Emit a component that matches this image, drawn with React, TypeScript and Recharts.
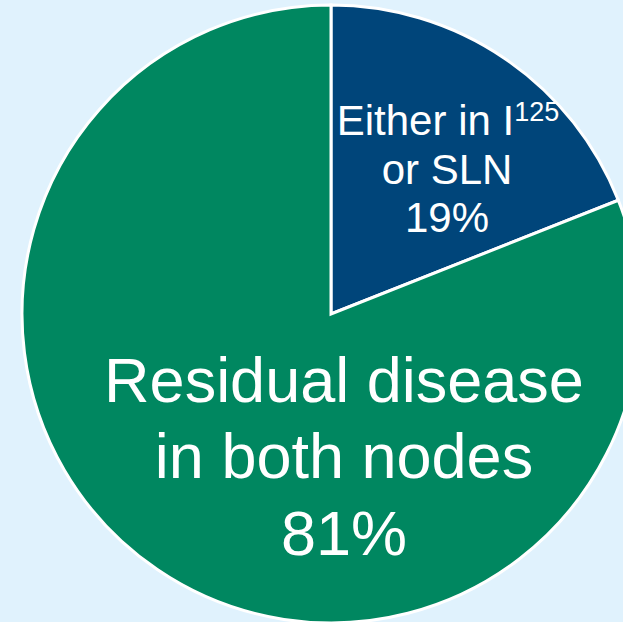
import { PieChart, Pie, Cell } from 'recharts'

document.body.style.margin = '0'

const sliceNames = ['Either in I125 or SLN', 'Residual disease in both nodes']
const sliceValues = [19, 81]
const sliceColors = ['#00457a', '#008760']

const data = sliceNames.map((name, i) => ({ name, value: sliceValues[i] }))

const FONT = '"Liberation Sans", Arial, sans-serif'

function renderLabel(props: any) {
  const { cx, cy, index, percent } = props
  const pct = `${Math.round(percent * 100)}%`
  if (index === 0) {
    const x = cx + 116
    return (
      <g fontFamily={FONT} fill="#ffffff" textAnchor="middle">
        <text x={x + 1} y={cy - 179} fontSize={42} fill="#ffffff">
          Either in I
          <tspan fontSize={27} dy={-14}>125</tspan>
        </text>
        <text x={x} y={cy - 130} fontSize={42} fill="#ffffff">or SLN</text>
        <text x={x} y={cy - 82} fontSize={42} fill="#ffffff">{pct}</text>
      </g>
    )
  }
  const x = cx + 13
  return (
    <g fontFamily={FONT} fill="#ffffff" textAnchor="middle">
      <text x={x} y={cy + 88} fontSize={63} fill="#ffffff">Residual disease</text>
      <text x={x} y={cy + 164} fontSize={63} fill="#ffffff">in both nodes</text>
      <text x={x} y={cy + 241} fontSize={63} fill="#ffffff">{pct}</text>
    </g>
  )
}

export default function App() {
  return (
    <div style={{ width: 623, height: 622, background: '#e0f2fd' }}>
      <PieChart width={623} height={622} margin={{ top: 0, right: 0, bottom: 0, left: 0 }}>
        <Pie
          data={data}
          dataKey="value"
          nameKey="name"
          cx={331}
          cy={314}
          outerRadius={309}
          startAngle={90}
          endAngle={-270}
          stroke="#ffffff"
          strokeWidth={3}
          label={renderLabel}
          labelLine={false}
          isAnimationActive={false}
        >
          {data.map((d, i) => (
            <Cell key={d.name} fill={sliceColors[i]} />
          ))}
        </Pie>
      </PieChart>
    </div>
  )
}
